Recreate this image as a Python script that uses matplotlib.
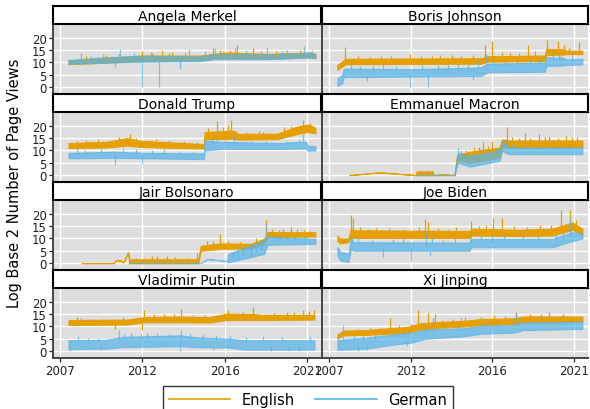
import numpy as np
import matplotlib
matplotlib.use("Agg")
import matplotlib.pyplot as plt
from matplotlib.lines import Line2D

EN_COLOR = "#E69F00"
DE_COLOR = "#56B4E9"

leaders = ["Angela Merkel", "Boris Johnson", "Donald Trump", "Emmanuel Macron",
           "Jair Bolsonaro", "Joe Biden", "Vladimir Putin", "Xi Jinping"]

# each series: (year, low, high) band of daily log2 views, plus spikes (year, from, to)
merkel_en = [(2007.21, 9.3, 10.8), (2009.14, 9.8, 11.7), (2011.68, 10.6, 12.8), (2015.2, 10.8, 12.8),
             (2016.0, 11.5, 13.5), (2016.86, 11.8, 14.0), (2019.3, 11.5, 13.5), (2021.9, 12.1, 14.0),
             (2022.21, 11.8, 13.5)]
merkel_en_spikes = [(2011.7, 12.5, 14.8), (2012.9, 12.5, 15.0), (2015.97, 13, 15.9), (2017.47, 13, 17.0),
                    (2018.39, 13, 15.8), (2020.5, 13, 15.2),
                    (2008.3, 11, 12.5), (2009.5, 11.5, 13.0), (2010.3, 12, 13.5), (2012.3, 12.5, 14.0),
                    (2013.5, 12.5, 14.2), (2014.3, 12, 13.8), (2016.4, 13.5, 15.2), (2017.0, 13.5, 15.0),
                    (2018.9, 13, 14.8), (2019.8, 13, 14.6), (2021.3, 13.5, 15.2)]
merkel_de = [(2007.21, 9.5, 11.0), (2009.14, 9.8, 12.0), (2011.68, 10.3, 12.8), (2015.2, 10.5, 12.5),
             (2016.0, 11.3, 13.3), (2019.3, 11.3, 13.3), (2021.9, 12.0, 14.0), (2022.21, 11.8, 13.3)]
merkel_de_spikes = [(2008.0, 11, 14), (2010.01, 10.5, 8.0), (2010.36, 12, 15.5), (2011.68, 11, 0.0),
                    (2012.70, 11, 0.0), (2013.96, 11, 7.5), (2014.53, 12, 15.5), (2016.1, 13, 16.0),
                    (2017.3, 13, 15.8), (2019.24, 13, 16.2), (2021.50, 13, 16.6),
                    (2008.6, 11, 12.8), (2009.3, 11.5, 13.3), (2011.2, 12, 13.8), (2012.2, 12, 14.3),
                    (2013.3, 12, 13.8), (2015.5, 12.5, 14.5), (2016.6, 13, 14.8), (2018.0, 13, 15.0),
                    (2020.2, 13, 14.8), (2022.0, 13, 15.0)]

johnson_en = [(2007.21, 7.0, 9.0), (2007.53, 8.5, 10.5), (2007.7, 9.3, 11.5), (2016.0, 9.5, 11.7),
              (2016.4, 10.3, 12.5), (2019.9, 10.5, 12.8), (2020.0, 13.0, 15.5), (2021.1, 13.2, 15.3),
              (2021.2, 13.4, 14.8), (2022.21, 13.4, 14.8)]
johnson_en_spikes = [(2007.68, 11, 16.2), (2009.91, 11, 12.8), (2011.64, 11, 13.4), (2013.5, 11, 13.0),
                     (2016.27, 12, 16.9), (2016.68, 12, 18.9), (2018.85, 12.5, 16.9), (2020.07, 15, 19.3),
                     (2020.74, 15, 18.9), (2021.09, 15, 17.0), (2022.0, 14.5, 18.2),
                     (2008.5, 11, 12.5), (2009.2, 11, 12.3), (2010.5, 11.3, 12.6), (2012.3, 11.5, 12.8),
                     (2013.0, 11.5, 12.6), (2014.2, 11.5, 13.0), (2014.8, 11.5, 12.5), (2015.5, 11.5, 13.0),
                     (2017.3, 12.5, 14.3), (2017.8, 12.5, 14.0), (2018.3, 12.5, 14.0), (2019.3, 12.5, 14.5),
                     (2021.4, 14.5, 16.0)]
johnson_de = [(2007.21, 0.5, 3.5), (2007.5, 1.5, 5.0), (2007.6, 4.0, 7.5), (2012.0, 4.3, 7.3),
              (2016.0, 4.5, 8.0), (2016.4, 6.0, 9.5), (2019.9, 6.2, 10.0), (2020.0, 8.6, 12.1),
              (2021.1, 8.8, 11.8), (2021.2, 9.0, 11.2), (2022.21, 9.2, 11.5)]
johnson_de_spikes = [(2008.04, 7, 10.0), (2010.0, 7, 9.5), (2011.68, 5, 0.0), (2012.76, 5, 0.0),
                     (2016.31, 9, 13.4), (2016.72, 9, 12.5), (2020.38, 11, 14.8), (2020.79, 11, 14.0),
                     (2021.6, 11, 13.0),
                     (2008.6, 7, 8.5), (2009.4, 7, 8.8), (2010.8, 7, 8.5), (2012.4, 7, 9.0),
                     (2013.4, 7, 8.8), (2014.0, 7.5, 9.2), (2014.6, 7.5, 9.5), (2015.2, 7.5, 9.5),
                     (2015.8, 7.8, 10.5), (2017.5, 9, 11.0), (2018.2, 9, 11.2), (2019.0, 9, 11.0),
                     (2019.6, 9.5, 11.5), (2020.9, 11.5, 13.0), (2009.0, 4.5, 2.5), (2015.5, 5, 3.0)]

trump_en = [(2007.21, 11.0, 13.0), (2009.5, 11.2, 13.5), (2010.77, 12.0, 15.0), (2011.5, 11.5, 14.0),
            (2013.6, 11.0, 13.2), (2015.44, 10.8, 12.6), (2015.48, 14.5, 17.5), (2017.27, 14.8, 18.0),
            (2017.5, 14.4, 16.7), (2019.91, 14.6, 16.8), (2021.0, 16.5, 19.5), (2021.74, 17.5, 20.5),
            (2022.21, 17.0, 19.3)]
trump_en_spikes = [(2010.97, 14, 16.5), (2007.72, 12, 14.0), (2016.25, 17, 22.0), (2016.9, 17, 20.5),
                   (2017.07, 17, 22.2), (2019.0, 16, 17.5), (2021.44, 19, 22.2), (2020.3, 17, 19.5),
                   (2008.3, 12.5, 14.3), (2009.0, 13, 14.8), (2010.3, 13.5, 15.5), (2011.3, 13.5, 15.0),
                   (2012.5, 13, 14.5), (2013.3, 13, 14.3), (2014.2, 12.5, 14.0), (2015.0, 12.3, 13.5),
                   (2015.7, 17, 19.0), (2016.6, 17.5, 19.5), (2018.0, 16.5, 17.5), (2018.8, 16.5, 17.8),
                   (2020.7, 18, 20.0), (2021.9, 19.5, 21.0)]
trump_de = [(2007.21, 6.8, 9.0), (2010.0, 7.0, 9.5), (2012.0, 6.8, 9.0), (2015.44, 6.5, 8.8),
            (2015.48, 10.0, 14.0), (2016.5, 10.6, 13.5), (2019.91, 10.6, 13.0), (2021.64, 10.8, 13.6),
            (2021.74, 9.9, 11.9), (2022.21, 10.0, 11.8)]
trump_de_spikes = [(2007.72, 9, 11.2), (2010.01, 8, 4.0), (2011.68, 8, 4.4), (2016.25, 13, 16.7),
                   (2017.27, 13, 16.0), (2021.44, 13, 16.7), (2013.0, 8.5, 10.5),
                   (2008.2, 8.5, 10.0), (2009.2, 9, 10.5), (2010.5, 9, 10.8), (2011.3, 9, 10.5),
                   (2012.3, 8.5, 10.0), (2014.0, 8.5, 9.8), (2014.8, 8.5, 9.5), (2015.9, 13, 15.0),
                   (2016.7, 13, 14.8), (2018.3, 12.5, 13.8), (2019.2, 12.5, 13.8), (2020.5, 12.5, 14.0),
                   (2021.2, 13, 14.5)]

macron_en = [(2007.94, 0.0, 0.0), (2009.81, 1.1, 1.1), (2012.0, 0.0, 0.0), (2012.05, 0.0, 1.5),
             (2013.06, 0.0, 1.5), (2013.1, 0.0, 0.0), (2013.67, 0.3, 0.3), (2014.38, 0.0, 0.0),
             (2014.53, 6.0, 8.0), (2015.3, 5.0, 9.5), (2017.13, 7.1, 11.2), (2017.3, 11.5, 14.5),
             (2017.7, 11.2, 14.0), (2022.21, 11.3, 14.0)]
macron_en_spikes = [(2016.11, 9, 13.6), (2016.7, 9, 14.0), (2017.59, 13, 19.5), (2018.71, 13.5, 17.1),
                    (2019.57, 13.5, 16.7), (2020.18, 13.5, 16.0), (2021.19, 13.5, 16.0), (2021.6, 13.5, 15.5),
                    (2012.3, 1, 2.0), (2012.7, 1, 2.2), (2014.8, 8, 9.8), (2015.1, 8.5, 10.0),
                    (2015.6, 9, 11.0), (2015.9, 9, 11.5), (2016.4, 10, 12.0), (2017.9, 14, 15.5),
                    (2018.3, 14, 15.2), (2019.0, 14, 15.0), (2019.9, 14, 15.5), (2020.7, 14, 15.0),
                    (2021.9, 14, 15.5)]
macron_de = [(2012.05, 0.0, 0.0), (2014.38, 0.0, 0.0), (2014.59, 5.0, 9.0), (2015.3, 3.4, 7.8),
             (2017.13, 5.8, 9.9), (2017.3, 9.9, 13.3), (2017.7, 8.5, 11.2), (2022.21, 8.5, 11.2)]
macron_de_spikes = [(2014.59, 7, 11.2), (2016.5, 7.5, 10.5), (2017.53, 11, 14.5),
                    (2014.9, 7, 9.0), (2015.5, 7, 9.5), (2016.0, 8, 10.5), (2016.9, 9, 11.0),
                    (2017.9, 11, 12.5), (2018.6, 11, 12.3), (2019.4, 11, 12.5), (2020.4, 11, 12.3),
                    (2021.4, 11, 12.5)]

bolsonaro_en = [(2008.02, 0.0, 0.0), (2009.95, 0.0, 0.0), (2010.1, 1.2, 1.2), (2010.4, 1.0, 1.0),
                (2010.55, 0.3, 0.3), (2010.83, 4.4, 4.4), (2010.9, 0.0, 1.5), (2015.1, 0.0, 1.6),
                (2015.24, 5.0, 7.0), (2016.46, 5.8, 8.0), (2018.29, 6.0, 7.8), (2019.1, 7.5, 9.9),
                (2019.3, 10.6, 12.6), (2022.21, 10.8, 12.5)]
bolsonaro_en_spikes = [(2012.29, 1, 2.7), (2012.59, 1, 2.7), (2013.2, 1, 2.7), (2014.5, 1, 2.0),
                       (2015.03, 1, 4.1), (2016.4, 7, 11.9), (2019.2, 10, 17.4), (2020.22, 12, 14.0),
                       (2020.72, 12, 14.5), (2021.5, 12, 13.5),
                       (2011.3, 1, 2.2), (2011.8, 1, 2.0), (2013.7, 1, 2.3), (2015.6, 7, 8.8),
                       (2016.0, 7.5, 9.0), (2016.9, 7.5, 8.8), (2017.6, 7.5, 8.6), (2018.6, 8.5, 10.0),
                       (2019.6, 12, 14.0), (2020.0, 12, 13.5), (2021.1, 12, 14.0), (2021.9, 12, 13.0)]
bolsonaro_de = [(2010.87, 0.0, 0.0), (2015.24, 0.0, 0.0), (2015.64, 1.6, 1.6), (2016.2, 1.3, 1.3),
                (2016.86, 0.8, 0.8), (2016.9, 0.3, 3.7), (2019.1, 3.7, 9.2), (2019.3, 7.4, 10.6),
                (2022.21, 7.8, 9.9)]
bolsonaro_de_spikes = [(2019.2, 9, 16.0), (2017.5, 2, 5.5), (2018.3, 3, 7.0), (2020.5, 9.5, 11.5),
                       (2021.0, 9.5, 11.5),
                       (2017.2, 2, 4.5), (2017.8, 3, 6.0), (2018.6, 4, 8.0), (2018.9, 5, 9.0),
                       (2019.7, 10, 11.5), (2020.0, 9.5, 11.0), (2021.6, 9.5, 11.0)]

biden_en = [(2007.21, 9.0, 11.2), (2007.37, 8.0, 10.0), (2007.88, 8.5, 10.0), (2008.04, 10.5, 14.0),
            (2008.18, 10.2, 13.3), (2015.3, 10.2, 13.0), (2015.4, 11.2, 14.0), (2018.35, 11.0, 13.5),
            (2020.38, 11.2, 14.0), (2021.6, 13.5, 16.5), (2022.21, 11.5, 14.0)]
biden_en_spikes = [(2008.04, 12, 19.5), (2008.18, 12, 18.3), (2009.16, 12, 14.0), (2012.55, 12, 17.8),
                   (2012.76, 12, 16.7), (2013.98, 12, 14.0), (2015.40, 12.5, 17.1), (2016.72, 13, 18.1),
                   (2017.29, 13, 18.4), (2020.89, 14.5, 21.5), (2021.44, 15, 21.5),
                   (2008.6, 13, 14.5), (2009.6, 13, 14.3), (2010.4, 13, 14.3), (2011.3, 13, 14.0),
                   (2012.2, 13, 14.5), (2013.4, 12.8, 14.2), (2014.5, 12.8, 14.5), (2015.9, 13.5, 15.0),
                   (2016.3, 13.5, 15.5), (2018.0, 13.5, 15.0), (2018.8, 13.5, 14.8), (2019.6, 13.5, 15.5),
                   (2020.3, 13.5, 15.5), (2021.8, 15.5, 17.5)]
biden_de = [(2007.21, 3.0, 6.5), (2007.4, 1.0, 4.5), (2007.9, 0.5, 4.0), (2008.04, 5.8, 10.6),
            (2008.18, 5.0, 8.5), (2015.3, 5.0, 8.3), (2015.4, 6.4, 9.9), (2020.38, 6.4, 9.9),
            (2021.6, 9.0, 12.6), (2022.21, 10.0, 12.0)]
biden_de_spikes = [(2010.01, 6, 2.3), (2011.70, 6, 1.0), (2012.66, 7, 12.6), (2015.40, 8, 14.0),
                   (2016.7, 8, 11.5), (2021.44, 11, 18.4), (2021.0, 10, 13.0),
                   (2008.5, 8, 10.0), (2009.3, 8, 9.5), (2010.6, 8, 9.8), (2011.2, 8, 10.2),
                   (2013.0, 8, 10.0), (2013.7, 8, 9.5), (2014.4, 8, 10.0), (2016.0, 9.5, 11.0),
                   (2017.4, 9.5, 11.5), (2018.6, 9.5, 11.0), (2019.5, 9.5, 10.8), (2020.6, 9.5, 11.5),
                   (2012.9, 5, 3.0)]

putin_en = [(2007.21, 10.6, 12.6), (2010.8, 10.8, 12.8), (2011.8, 11.7, 13.8), (2014.02, 11.7, 14.0),
            (2015.8, 11.6, 13.8), (2016.8, 12.6, 15.2), (2018.49, 12.6, 15.0), (2019.0, 12.6, 14.7),
            (2022.15, 12.8, 14.7)]
putin_en_spikes = [(2007.72, 12, 14.0), (2010.01, 11, 8.8), (2011.68, 12, 8.5), (2011.78, 13, 16.7),
                   (2014.02, 13, 17.1), (2018.39, 14, 17.7), (2021.44, 14, 16.7), (2022.15, 14, 16.7),
                   (2020.5, 14, 16.0),
                   (2008.0, 12, 13.5), (2008.6, 12, 13.2), (2009.3, 12, 13.0), (2010.5, 12.5, 14.0),
                   (2012.4, 13.5, 15.0), (2013.0, 13.5, 15.2), (2013.6, 13.5, 15.0), (2014.8, 13.5, 14.8),
                   (2015.5, 13.5, 14.8), (2016.9, 15, 16.5), (2017.8, 14.5, 16.0), (2019.7, 14.5, 15.5),
                   (2020.9, 14.5, 15.8), (2021.8, 14.5, 16.2)]
putin_de = [(2007.21, 0.8, 4.4), (2009.5, 1.0, 4.6), (2010.5, 1.6, 5.8), (2014.02, 2.0, 6.4),
            (2015.0, 1.6, 5.6), (2017.0, 1.4, 5.0), (2018.0, 0.6, 4.4), (2022.15, 0.6, 4.4)]
putin_de_spikes = [(2007.3, 2, 0.0), (2010.26, 4, 8.5), (2012.0, 4, 7.5), (2014.02, 5, 8.5),
                   (2014.0, 4, 0.0), (2019.5, 2, 0.0), (2021.2, 2, 0.0),
                   (2007.8, 4, 6.0), (2008.4, 4, 5.5), (2009.0, 4, 5.5), (2010.6, 5, 7.0),
                   (2011.0, 5, 7.5), (2011.6, 5, 6.8), (2012.6, 5.5, 7.5), (2013.3, 5.5, 7.0),
                   (2014.6, 5, 7.5), (2015.4, 5, 7.0), (2016.2, 4.5, 6.5), (2017.0, 4.5, 6.3),
                   (2018.0, 4, 5.8), (2019.0, 4, 6.0), (2020.2, 4, 5.8), (2021.9, 4, 6.0),
                   (2009.2, 2, 0.3), (2016.0, 2, 0.5), (2020.6, 2, 0.0)]

xi_en = [(2007.21, 5.0, 6.7), (2007.57, 6.4, 8.3), (2009.0, 6.6, 8.5), (2010.2, 7.0, 9.2),
         (2011.5, 7.5, 9.8), (2012.3, 8.8, 11.3), (2013.5, 9.5, 11.8), (2015.0, 10.0, 12.3),
         (2016.0, 10.6, 13.0), (2018.0, 11.0, 13.3), (2018.6, 11.9, 14.0), (2022.21, 12.0, 14.0)]
xi_en_spikes = [(2010.42, 9, 13.3), (2012.15, 9, 16.7), (2012.76, 11, 15.4), (2013.16, 11, 15.0),
                (2018.14, 12.5, 16.0), (2020.18, 13, 16.0), (2015.0, 11, 14.0),
                (2008.4, 8, 9.0), (2009.2, 8, 9.3), (2009.8, 8, 9.5), (2011.0, 9, 10.5),
                (2011.7, 9, 11.0), (2013.6, 11.5, 12.8), (2014.3, 11.5, 13.0), (2014.8, 11.5, 13.5),
                (2016.0, 12.8, 14.0), (2016.8, 13, 14.5), (2017.5, 13, 14.3), (2019.0, 14, 15.0),
                (2019.7, 14, 15.2), (2021.0, 14, 15.0)]
xi_de = [(2007.21, 0.5, 4.5), (2009.0, 1.0, 5.5), (2010.3, 2.3, 6.5), (2011.8, 3.5, 7.5),
         (2012.6, 5.0, 8.8), (2015.0, 6.0, 9.3), (2016.0, 7.0, 10.3), (2018.0, 7.5, 10.6),
         (2018.6, 8.5, 11.5), (2022.21, 9.0, 11.9)]
xi_de_spikes = [(2007.53, 4, 10.6), (2013.06, 8, 13.3), (2018.14, 10, 15.4), (2018.35, 10, 14.0),
                (2008.2, 4, 6.0), (2008.8, 4.5, 6.5), (2009.5, 5, 6.5), (2010.6, 6, 8.0),
                (2011.2, 6.5, 8.5), (2012.6, 8.5, 10.5), (2013.8, 8.5, 10.0), (2014.6, 8.5, 10.3),
                (2016.2, 10, 11.5), (2017.0, 10, 12.0), (2019.2, 11, 12.8), (2020.3, 11, 13.0),
                (2021.5, 11, 12.5), (2008.5, 2, 0.0), (2009.0, 2, 0.3), (2011.5, 4, 2.0)]

english = [merkel_en, johnson_en, trump_en, macron_en, bolsonaro_en, biden_en, putin_en, xi_en]
english_spikes = [merkel_en_spikes, johnson_en_spikes, trump_en_spikes, macron_en_spikes,
                  bolsonaro_en_spikes, biden_en_spikes, putin_en_spikes, xi_en_spikes]
german = [merkel_de, johnson_de, trump_de, macron_de, bolsonaro_de, biden_de, putin_de, xi_de]
german_spikes = [merkel_de_spikes, johnson_de_spikes, trump_de_spikes, macron_de_spikes,
                 bolsonaro_de_spikes, biden_de_spikes, putin_de_spikes, xi_de_spikes]

tick_pos = [2006.7, 2011.7, 2016.7, 2021.7]
tick_lab = ["2007", "2012", "2016", "2021"]


def draw_series(ax, band, spikes, color, alpha):
    t, lo, hi = np.array(band).T
    ax.fill_between(t, lo, hi, facecolor=color, edgecolor=color, lw=0.8, alpha=alpha)
    if spikes:
        st, s0, s1 = np.array(spikes).T
        ax.vlines(st, s0, s1, colors=color, lw=0.9, alpha=alpha)


W, H = 590, 410
fig = plt.figure(figsize=(W / 100, H / 100), dpi=100)
cols = [(53, 321), (322, 588)]

for i, name in enumerate(leaders):
    r, c = divmod(i, 2)
    x0, x1 = cols[c]
    ptop = 25 + 88 * r
    ax = fig.add_axes([x0 / W, (H - ptop - 70) / H, (x1 - x0) / W, 70 / H])
    ax.set_facecolor("#dedede")
    draw_series(ax, english[i], english_spikes[i], EN_COLOR, 1.0)
    draw_series(ax, german[i], german_spikes[i], DE_COLOR, 0.72)
    ax.set_xlim(2006.27, 2022.55)
    ax.set_ylim(-2.8, 25.6)
    ax.set_yticks([0, 5, 10, 15, 20])
    ax.set_xticks(tick_pos)
    ax.set_xticklabels(tick_lab)
    ax.grid(True, color="white", lw=1.0)
    ax.set_axisbelow(True)
    for s in ["top", "right"]:
        ax.spines[s].set_visible(False)
    for s in ["left", "bottom"]:
        ax.spines[s].set_color("#444444")
        ax.spines[s].set_linewidth(1.4)
    ax.tick_params(colors="#222222", labelsize=8.5, length=3, width=0.9, pad=1.5)
    if c == 1:
        ax.tick_params(axis="y", length=0, labelleft=False)
    if r < 3:
        ax.tick_params(axis="x", length=0, labelbottom=False)

    # facet strip with the leader's name
    sax = fig.add_axes([x0 / W, (H - ptop) / H, (x1 - x0) / W, 18 / H])
    sax.set_facecolor("white")
    sax.set_xticks([])
    sax.set_yticks([])
    for s in sax.spines.values():
        s.set_color("black")
        s.set_linewidth(1.5)
    sax.text(0.5, 0.45, name, ha="center", va="center", fontsize=10, transform=sax.transAxes)

fig.text(15 / W, (H - 183) / H, "Log Base 2 Number of Page Views", rotation=90,
         ha="center", va="center", fontsize=10.5)

handles = [Line2D([], [], color=EN_COLOR, lw=1.2), Line2D([], [], color=DE_COLOR, lw=1.2)]
leg = fig.legend(handles, ["English", "German"], loc="upper center", ncol=2,
                 bbox_to_anchor=(0.522, (H - 387) / H), frameon=True, fancybox=False,
                 edgecolor="black", fontsize=10.5, handlelength=4.2, columnspacing=1.4,
                 borderaxespad=0, borderpad=0.4)
leg.get_frame().set_linewidth(1.0)

fig.savefig("out.png", dpi=100)
